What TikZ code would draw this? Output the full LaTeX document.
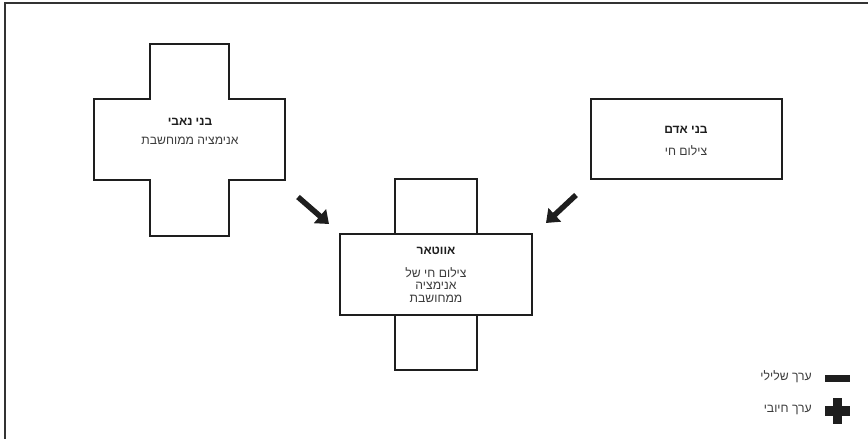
\documentclass[tikz,border=0pt]{standalone}
\usepackage{fontspec}
\setmainfont{Liberation Sans}
\newfontfamily\hebfont[Script=Hebrew]{Liberation Sans}
\TeXXeTstate=1
\usetikzlibrary{arrows.meta, positioning}
\definecolor{c1}{HTML}{1E1E1E}
\definecolor{c2}{HTML}{3C3C3C}
\definecolor{framecolor}{HTML}{333333}

\begin{document}
\begin{tikzpicture}[
    x=1pt, y=-1pt,
    every node/.style={font=\hebfont\fontsize{12.2}{12.5}\selectfont, text=c2, inner sep=0pt},
    title/.style={font=\hebfont\bfseries\fontsize{12}{12.5}\selectfont, text=c1},
    body/.style={align=center},
    outline/.style={draw=c1, line width=#1, fill=white},
    outline/.default=1.5pt,
    bigarr/.style={c1, line width=5.5pt, -{Triangle[width=18pt, length=12pt]}},
    key/.style={anchor=east},
]
\useasboundingbox (0,0) rectangle (868,439);

% ---------------------------------------------------------------- frame
\draw[framecolor, line width=1.5pt] (5,439) -- (5,3) -- (868,3);

% ---------------------------------------------------------------- left plus
\draw[outline] (150,44) -- (229,44) -- (229,99) -- (285,99) -- (285,180)
    -- (229,180) -- (229,236) -- (150,236) -- (150,180) -- (94,180)
    -- (94,99) -- (150,99) -- cycle;
\node[title] (bnt) at (190,122) {\beginR בני נאבי\endR};
\node[body] (bnb) at (190,141) {\beginR אנימציה ממוחשבת\endR};

% ---------------------------------------------------------------- right box
\draw[outline=2pt] (591,99) rectangle (782,179);
\node[title] (bat) at (686,130) {\beginR בני אדם\endR};
\node[body] (bab) at (686,151) {\beginR צילום חי\endR};

% ---------------------------------------------------------------- avatar
\draw[outline=1.3pt] (395,179) rectangle (477,234);
\draw[outline=1.3pt] (395,315) rectangle (477,370);
\draw[outline=2pt] (340,234) rectangle (532,315);
\node[title] (avt) at (436,251) {\beginR אווטאר\endR};
\node[body, below=12pt of avt.south, anchor=north] (avb)
    {\beginR צילום חי של\endR\\ \beginR אנימציה\endR\\ \beginR ממחושבת\endR};

% ---------------------------------------------------------------- arrows
\coordinate (la1) at (298,197);
\coordinate (la2) at (329,224);
\coordinate (ra1) at (576,195);
\coordinate (ra2) at (546,223);
\draw[bigarr] (la1) -- (la2);
\draw[bigarr] (ra1) -- (ra2);

% ---------------------------------------------------------------- legend
\fill[c1] (825,375) rectangle (850,382);
\fill[c1] (833,398) rectangle (842,424);
\fill[c1] (825,406) rectangle (850,416);
\node[key] (neg) at (812,377) {\beginR ערך שלילי\endR};
\node[key] (pos) at (812,410) {\beginR ערך חיובי\endR};

\end{tikzpicture}
\end{document}
